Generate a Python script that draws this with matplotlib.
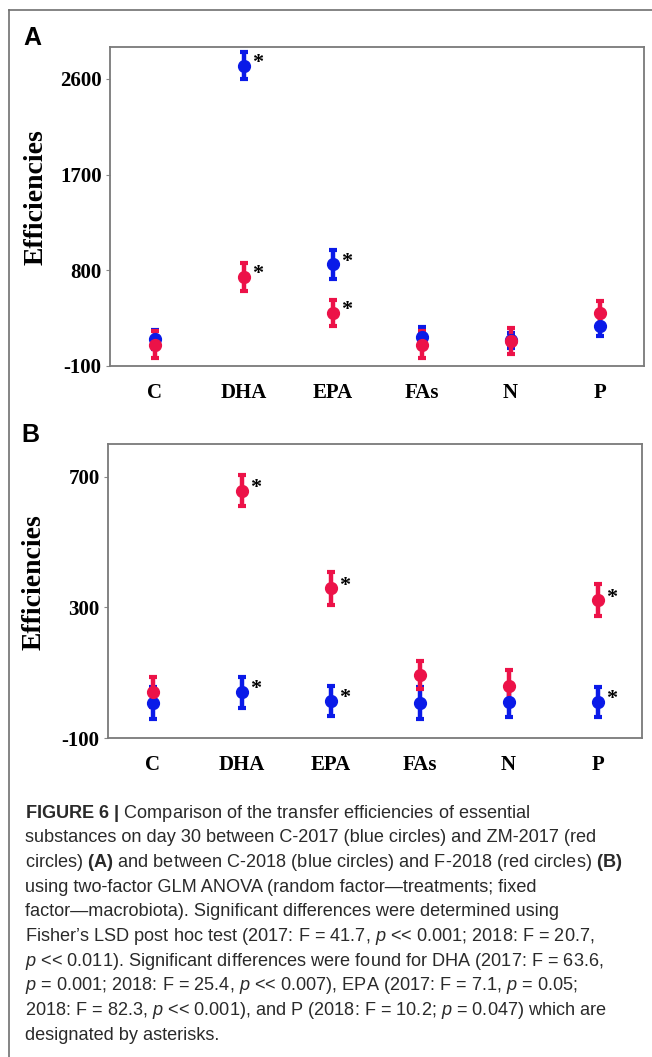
import matplotlib
matplotlib.use("Agg")
import matplotlib.pyplot as plt
from matplotlib import font_manager
from matplotlib.lines import Line2D

# --- Data ---
categories = ["C", "DHA", "EPA", "FAs", "N", "P"]

# Panel A (2017): C-2017 blue, ZM-2017 red
a_blue_mean = [150, 2725, 855, 170, 140, 280]
a_blue_err = [90, 130, 135, 100, 75, 100]
a_red_mean = [100, 740, 400, 100, 137, 400]
a_red_err = [128, 130, 125, 128, 120, 115]
a_blue_star = [False, True, True, False, False, False]
a_red_star = [False, True, True, False, False, False]
a_yticks = [-100, 800, 1700, 2600]

# Panel B (2018): C-2018 blue, F-2018 red
b_blue_mean = [7, 40, 13, 7, 10, 10]
b_blue_err = [48, 47, 46, 48, 46, 46]
b_red_mean = [40, 657, 358, 92, 59, 321]
b_red_err = [46, 48, 50, 43, 49, 49]
b_blue_star = [False, True, True, False, False, True]
b_red_star = [False, True, True, False, False, True]
b_yticks = [-100, 300, 700]

caption_lines = [
    r"$\mathbf{FIGURE\ 6\ |}$ Comparison of the transfer efficiencies of essential",
    "substances on day 30 between C-2017 (blue circles) and ZM-2017 (red",
    r"circles) $\mathbf{(A)}$ and between C-2018 (blue circles) and F-2018 (red circles) $\mathbf{(B)}$",
    "using two-factor GLM ANOVA (random factor\u2014treatments; fixed",
    "factor\u2014macrobiota). Significant differences were determined using",
    r"Fisher’s LSD post hoc test (2017: F = 41.7, $p$ << 0.001; 2018: F = 20.7,",
    r"$p$ << 0.011). Significant differences were found for DHA (2017: F = 63.6,",
    r"$p$ = 0.001; 2018: F = 25.4, $p$ << 0.007), EPA (2017: F = 7.1, $p$ = 0.05;",
    r"2018: F = 82.3, $p$ << 0.001), and P (2018: F = 10.2; $p$ = 0.047) which are",
    "designated by asterisks.",
]

BLUE = "#0a1ae8"
RED = "#ec1248"
W, H = 652, 1057

names = {f.name for f in font_manager.fontManager.ttflist}
cap_font = "Liberation Sans Narrow" if "Liberation Sans Narrow" in names else "Liberation Sans"

plt.rcParams["mathtext.fontset"] = "custom"
plt.rcParams["mathtext.rm"] = cap_font
plt.rcParams["mathtext.it"] = cap_font + ":italic"
plt.rcParams["mathtext.bf"] = cap_font + ":bold"

fig = plt.figure(figsize=(W / 100, H / 100), dpi=100)
fig.patch.set_facecolor("white")

# outer frame (top and left edges)
fig.add_artist(Line2D([9 / W, 1], [1 - 10 / H, 1 - 10 / H], color="#6f6f6f", lw=1.2))
fig.add_artist(Line2D([9 / W, 9 / W], [0, 1 - 10 / H], color="#6f6f6f", lw=1.2))

serif = "Liberation Serif"


def draw_panel(rect, blue_m, blue_e, red_m, red_e, blue_star, red_star, yticks, ylim):
    ax = fig.add_axes(rect)
    x = list(range(1, len(categories) + 1))
    for m, e, c, stars in [(blue_m, blue_e, BLUE, blue_star), (red_m, red_e, RED, red_star)]:
        ax.errorbar(x, m, yerr=e, fmt="o", color=c, ms=8.5, elinewidth=3.2,
                    capsize=2.6, capthick=3, zorder=3)
        for xi, yi, s in zip(x, m, stars):
            if s:
                ax.annotate("*", (xi, yi), xytext=(6, 2), textcoords="offset points",
                            ha="left", va="center", fontsize=16, fontweight="bold",
                            family=serif, color="black")
    ax.set_xlim(0.5, 6.5)
    ax.set_ylim(*ylim)
    ax.set_xticks(x)
    ax.set_xticklabels(categories)
    ax.set_yticks(yticks)
    ax.set_yticklabels([str(t) for t in yticks])
    for lab in ax.get_xticklabels() + ax.get_yticklabels():
        lab.set_fontfamily(serif)
        lab.set_fontweight("bold")
        lab.set_fontsize(15)
    ax.tick_params(axis="x", length=0, pad=12)
    ax.tick_params(axis="y", length=3, width=0.8, color="#888888", pad=3)
    for sp in ax.spines.values():
        sp.set_color("#7a7a7a")
        sp.set_linewidth(1.3)
    ax.set_ylabel("Efficiencies", family=serif, fontweight="bold", fontsize=20)
    ax.yaxis.set_label_coords(-0.115, 0.53)
    return ax


ax_a = draw_panel([110 / W, 1 - 366 / H, 534 / W, 319 / H],
                  a_blue_mean, a_blue_err, a_red_mean, a_red_err,
                  a_blue_star, a_red_star, a_yticks, (-100, 2900))
ax_b = draw_panel([108 / W, 1 - 738 / H, 534 / W, 294 / H],
                  b_blue_mean, b_blue_err, b_red_mean, b_red_err,
                  b_blue_star, b_red_star, b_yticks, (-100, 800))

fig.text(23 / W, 1 - 45 / H, "A", family="Liberation Sans", fontweight="bold",
         fontsize=18, va="baseline")
fig.text(21 / W, 1 - 442 / H, "B", family="Liberation Sans", fontweight="bold",
         fontsize=18, va="baseline")

# caption: fit the longest line to the measured width
renderer = fig.canvas.get_renderer()
probe = fig.text(0, 0, caption_lines[2], family=cap_font, fontsize=10)
w_probe = probe.get_window_extent(renderer).width
probe.remove()
cap_size = 10 * 597 / w_probe

for i, line in enumerate(caption_lines):
    fig.text(25 / W, 1 - (813 + 24.7 * i) / H, line, family=cap_font,
             fontsize=cap_size, color="#2a2a2a", va="center", ha="left")

fig.savefig("out.png", dpi=100)
